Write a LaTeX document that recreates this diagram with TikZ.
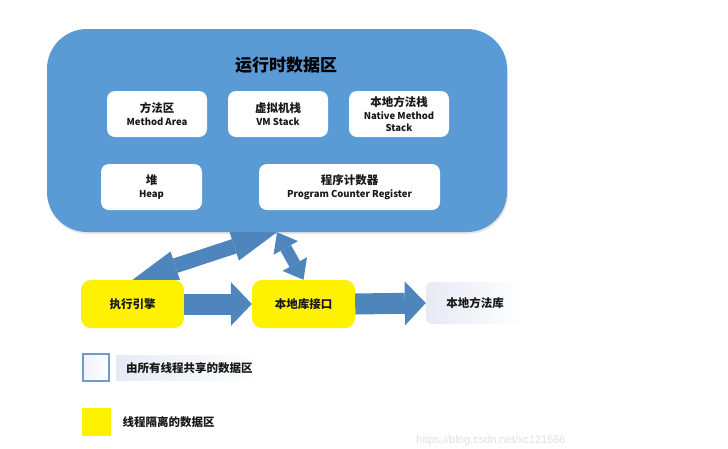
\documentclass[tikz,border=0pt]{standalone}
\usepackage{fontspec}
\setmainfont{Noto Sans CJK SC}
\newfontfamily\wmfont{Liberation Sans}
\usetikzlibrary{arrows.meta, shadows}

\definecolor{rdablue}{RGB}{91,155,213}
\definecolor{arrblue}{RGB}{78,133,188}
\definecolor{legblue}{RGB}{108,155,210}
\definecolor{libgray}{RGB}{230,234,244}
\newcommand\zhsize{\fontsize{11.5}{15}\selectfont}

\begin{document}
\begin{tikzpicture}[x=1pt,y=-1pt,
   area/.style={rectangle,rounded corners=8pt,fill=white,minimum width=100pt,minimum height=46pt,
                align=center,inner sep=1pt,text=black!90,font=\bfseries\fontsize{9.5}{13.5}\selectfont},
   thread/.style={rectangle,rounded corners=10pt,fill=yellow,minimum width=103pt,minimum height=48pt,
                  text=black!90,font=\bfseries\zhsize},
   flow/.style={arrblue,line width=21pt,-{Triangle[length=21pt,width=44pt,line width=0pt]}},
   access/.style={arrblue,line width=15pt,{Triangle[length=45pt,width=30pt,line width=0pt]}-{Triangle[length=45pt,width=30pt,line width=0pt]}},
   callout/.style={arrblue,line width=12pt,{Triangle[length=18pt,width=28pt,line width=0pt]}-{Triangle[length=18pt,width=28pt,line width=0pt]}},
   legtext/.style={anchor=west,text=black!90,font=\bfseries\zhsize}]

   \useasboundingbox (0,0) rectangle (728,448);

   % Nodes
      \node[rectangle,rounded corners=40pt,fill=rdablue,minimum width=460pt,minimum height=203pt,
            drop shadow={opacity=0.2,shadow xshift=1pt,shadow yshift=-2pt}]   (rda)    at (277,130.5) {};
      \node[font=\bfseries\fontsize{17}{20}\selectfont]                         (title)  at (286,65)    {运行时数据区};
      \node[area]                                 (method) at (157,114) {{\zhsize 方法区}\\Method Area};
      \node[area]                                 (vmst)   at (278,114) {{\zhsize 虚拟机栈}\\VM Stack};
      \node[area]                                 (natst)  at (399,114) {{\zhsize 本地方法栈}\\Native Method\\[-2pt]Stack};
      \node[area,minimum width=101pt]             (heap)   at (151.5,187) {{\zhsize 堆}\\Heap};
      \node[area,minimum width=181pt]             (pcreg)  at (349.5,187) {{\zhsize 程序计数器}\\Program Counter Register};

      \node[thread]                               (engine) at (132.5,304) {执行引擎};
      \node[thread]                               (jni)    at (303.5,304) {本地库接口};
      \node[rectangle,rounded corners=6pt,left color=libgray,right color=white,minimum width=98pt,
            minimum height=42pt,text=black!90,font=\bfseries\zhsize]          (natlib) at (475,303) {本地方法库};

   % Paths
      \draw[flow]    (engine.east) -- (jni.west);
      \draw[flow]    (jni.east)    -- (natlib.west);
      \draw[access]  (engine.north) -- (rda.south);
      \draw[callout] (rda.south)   -- (jni.north);

   % Legend
      \node[rectangle,draw=legblue,line width=2pt,left color=libgray!60,right color=white,
            minimum width=26pt,minimum height=27pt]                           (shared)  at (96,367.5) {};
      \node[legtext,left color=libgray,right color=white,minimum height=25pt,inner xsep=10pt] (sharedt) at (116,368) {由所有线程共享的数据区};
      \node[rectangle,fill=yellow,minimum width=29pt,minimum height=28pt]       (private) at (96.5,422) {};
      \node[legtext]                                                            (privatet) at (119,422) {线程隔离的数据区};

      \node[text=black!12,font=\wmfont\fontsize{11}{13}\selectfont]             (mark)    at (491,441) {https://blog.csdn.net/xc121566};
\end{tikzpicture}
\end{document}
